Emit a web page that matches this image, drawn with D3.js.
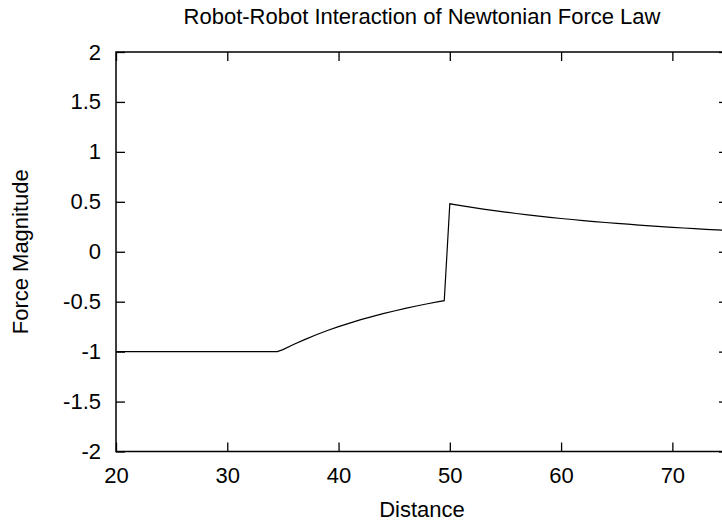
<!DOCTYPE html>
<html>
<head>
<meta charset="utf-8">
<script src="https://cdn.jsdelivr.net/npm/d3@7"></script>
<style>
  html, body { margin: 0; padding: 0; background: #fff; overflow: hidden; }
  svg { display: block; font-family: "Liberation Sans", Arial, Helvetica, sans-serif; }
</style>
</head>
<body>
<svg id="chart" width="722" height="522"></svg>
<script>
// Force magnitude between two robots versus their separation distance
const distance = [
  20, 34.5,
  35, 36, 37, 38, 39, 40, 41, 42, 43, 44, 45, 46, 47, 48, 49, 49.5,
  50, 51, 52, 53, 54, 55, 56, 57, 58, 59, 60, 61, 62, 63, 64, 65, 66,
  67, 68, 69, 70, 71, 72, 73, 74, 75
];
const force = [
  -1, -1,
  -0.980, -0.926, -0.877, -0.831, -0.789, -0.750, -0.714, -0.680, -0.649,
  -0.620, -0.593, -0.567, -0.543, -0.521, -0.500, -0.490,
  0.480, 0.461, 0.444, 0.427, 0.412, 0.397, 0.383, 0.369, 0.357, 0.345,
  0.333, 0.323, 0.312, 0.302, 0.293, 0.284, 0.276, 0.267, 0.260, 0.252,
  0.245, 0.238, 0.232, 0.225, 0.219, 0.213
];

const xTicks = [20, 30, 40, 50, 60, 70];
const yTicks = [-2, -1.5, -1, -0.5, 0, 0.5, 1, 1.5, 2];
const xDomain = [20, 75];
const yDomain = [-2, 2];

const titleText = "Robot-Robot Interaction of Newtonian Force Law";
const xLabelText = "Distance";
const yLabelText = "Force Magnitude";

const margin = { left: 116, top: 52, right: 728, bottom: 451.5 };
const fontSize = 22;
const tickLen = 9;

const svg = d3.select("#chart");

const x = d3.scaleLinear().domain(xDomain).range([margin.left, margin.right]);
const y = d3.scaleLinear().domain(yDomain).range([margin.bottom, margin.top]);

const plotW = margin.right - margin.left;
const plotH = margin.bottom - margin.top;

// Axes with inward ticks on all four sides
const axisStyle = g => {
  g.select(".domain").remove();
  g.selectAll(".tick line").attr("stroke", "#000").attr("stroke-width", 1.3);
  g.selectAll(".tick text").attr("fill", "#000").style("font-size", fontSize + "px")
    .attr("font-family", "Liberation Sans, Arial, sans-serif");
};

svg.append("g")
  .attr("transform", `translate(0,${margin.bottom})`)
  .call(d3.axisBottom(x).tickValues(xTicks).tickSize(-tickLen).tickPadding(16)
    .tickFormat(d3.format("d")))
  .call(axisStyle);

svg.append("g")
  .attr("transform", `translate(0,${margin.top})`)
  .call(d3.axisTop(x).tickValues(xTicks).tickSize(-tickLen).tickFormat(""))
  .call(axisStyle);

svg.append("g")
  .attr("transform", `translate(${margin.left},0)`)
  .call(d3.axisLeft(y).tickValues(yTicks).tickSize(-tickLen).tickPadding(15)
    .tickFormat(d => String(d)))
  .call(axisStyle);

svg.append("g")
  .attr("transform", `translate(${margin.right},0)`)
  .call(d3.axisRight(y).tickValues(yTicks).tickSize(-tickLen).tickFormat(""))
  .call(axisStyle);

// Plot border
svg.append("rect")
  .attr("x", margin.left).attr("y", margin.top)
  .attr("width", plotW).attr("height", plotH)
  .attr("fill", "none").attr("stroke", "#000").attr("stroke-width", 1.5);

// Force curve
const pts = distance.map((d, i) => [d, force[i]]);
const line = d3.line().x(d => x(d[0])).y(d => y(d[1]));
svg.append("path")
  .datum(pts)
  .attr("d", line)
  .attr("fill", "none")
  .attr("stroke", "#000")
  .attr("stroke-width", 1.2)
  .attr("stroke-linejoin", "miter");

// Title and axis labels
svg.append("text")
  .attr("x", (margin.left + margin.right) / 2)
  .attr("y", 24)
  .attr("text-anchor", "middle")
  .style("font-size", fontSize + "px")
  .text(titleText);

svg.append("text")
  .attr("x", (margin.left + margin.right) / 2)
  .attr("y", 516.5)
  .attr("text-anchor", "middle")
  .style("font-size", fontSize + "px")
  .text(xLabelText);

svg.append("text")
  .attr("transform", `translate(28,${(margin.top + margin.bottom) / 2}) rotate(-90)`)
  .attr("text-anchor", "middle")
  .style("font-size", fontSize + "px")
  .text(yLabelText);
</script>
</body>
</html>
